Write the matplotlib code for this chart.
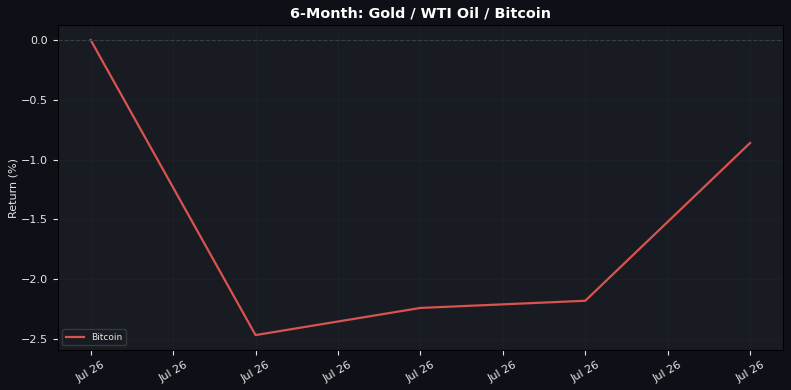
import matplotlib
matplotlib.use("Agg")
import matplotlib.pyplot as plt

# Bitcoin 6-month return (%)
x_pos = [0, 2, 4, 6, 8]
btc_return = [0.0, -2.467, -2.24, -2.18, -0.86]
tick_pos = list(range(9))
tick_labels = ["Jul 26"] * 9

bg = "#0d1117"
ax_bg = "#181c22"
fg = "#e6e6e6"

fig, ax = plt.subplots(figsize=(7.91, 3.9), dpi=100)
fig.patch.set_facecolor(bg)
ax.set_facecolor(ax_bg)

ax.plot(x_pos, btc_return, color="#d9534f", linewidth=1.6, label="Bitcoin")
ax.axhline(0, color="#3a3f47", linewidth=0.8, linestyle="--")

ax.set_xticks(tick_pos)
ax.set_xticklabels(tick_labels, rotation=30)
ax.grid(True, color="#22272e", linewidth=0.5, alpha=0.5)
ax.tick_params(colors=fg, labelsize=8)
for s in ax.spines.values():
    s.set_color("#000000")

ax.set_ylabel("Return (%)", color=fg, fontsize=8, labelpad=1.5)
ax.set_title("6-Month: Gold / WTI Oil / Bitcoin", color="white",
             fontsize=10.4, fontweight="bold")

leg = ax.legend(loc="lower left", fontsize=6.5, facecolor=ax_bg,
                edgecolor="#3a3f47")
for t in leg.get_texts():
    t.set_color(fg)

fig.subplots_adjust(left=0.073, right=0.99, top=0.935, bottom=0.103)
fig.savefig("out.png", dpi=100, facecolor=bg)
